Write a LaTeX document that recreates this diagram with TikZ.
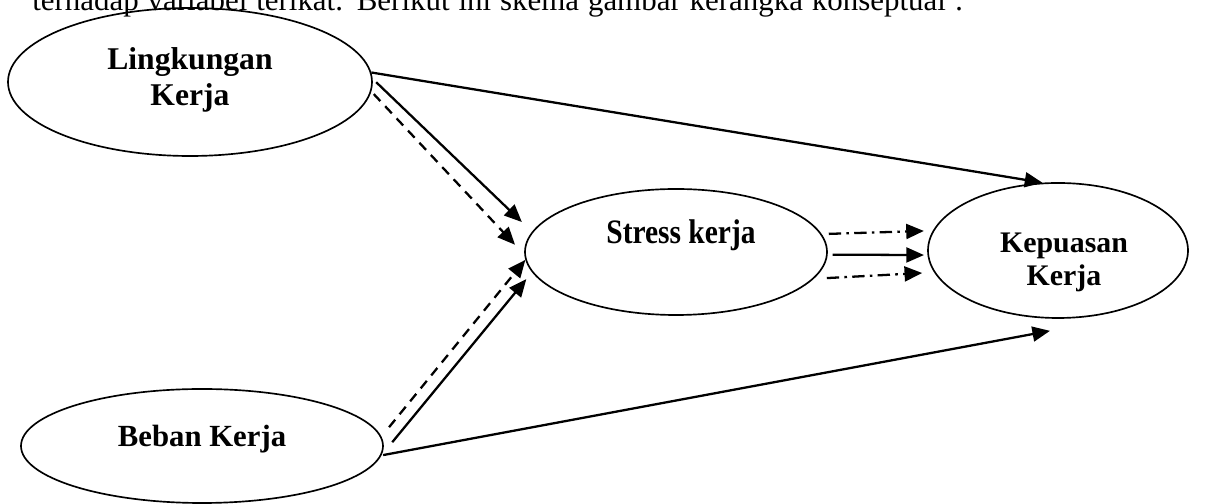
\documentclass[tikz,border=0pt]{standalone}
\usepackage{fontspec}
\setmainfont{Liberation Serif}
\usetikzlibrary{shapes.geometric,arrows.meta}
\begin{document}
\begin{tikzpicture}[var/.style={ellipse,draw,line width=0.95pt,inner sep=0pt},
ln/.style={line width=1.3pt,-{Triangle[length=10pt,width=8.5pt]}},
dsh/.style={ln,dash pattern=on 5.5pt off 4pt},
dd/.style={ln,dash pattern=on 7pt off 3pt on 1.5pt off 3pt}]
\clip(0,0) rectangle (24.16,10.08);
\node[anchor=base west,inner sep=0pt,font=\fontsize{17.6}{20}\selectfont] (intro) at (0.64,9.86)
{\makebox[18.62cm][s]{terhadap variabel terikat. Berikut ini skema gambar kerangka konseptual :}};
\node[var,minimum width=7.28cm,minimum height=2.96cm] (ling) at (3.80,8.44) {};
\node[var,minimum width=7.24cm,minimum height=2.28cm] (beban) at (4.04,1.16) {};
\node[var,minimum width=6.04cm,minimum height=2.52cm] (stress) at (13.52,5.04) {};
\node[var,minimum width=5.20cm,minimum height=2.70cm] (kep) at (21.16,5.07) {};
\node[align=center,font=\bfseries\fontsize{18}{20.4}\selectfont] (lingtxt) at (3.80,8.48) {Lingkungan\\Kerja};
\node[font=\bfseries\fontsize{17.5}{20}\selectfont] (bebantxt) at (4.04,1.30) {Beban Kerja};
\node[font=\bfseries\fontsize{19.5}{22}\selectfont] (stresstxt) at (13.62,5.38) {\scalebox{0.86}[1]{Stress kerja}};
\node[align=center,font=\bfseries\fontsize{17}{18.7}\selectfont] (keptxt) at (21.28,4.83) {Kepuasan\\Kerja};
\draw[ln] (ling.3)--(kep.103);
\draw[ln,shorten <=2.8pt,shorten >=8pt] (ling.1)--(stress.172.5);
\draw[dsh,shorten <=2pt,shorten >=7.7pt] (ling.-3)--(stress.181.1);
\draw[dsh,shorten <=6.9pt] (beban.3.8)--(stress.183.4);
\draw[ln,shorten <=9.7pt,shorten >=5.1pt] (beban.-3)--(stress.188);
\draw[ln,shorten <=1pt] (beban.-3.4)--([shift={(-0.16,-0.24)}]kep.south);
\draw[dd,shorten <=4pt,shorten >=5.1pt] (stress.7.5)--(kep.171.6);
\draw[ln,shorten <=2.8pt,shorten >=2pt] (stress.-1.5)--(kep.182.9);
\draw[dd,shorten <=7.4pt,shorten >=6.8pt] (stress.-11)--(kep.190.1);
\end{tikzpicture}
\end{document}
